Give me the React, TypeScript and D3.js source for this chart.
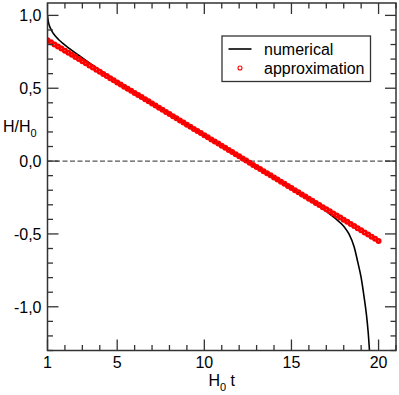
import React from 'react';
import * as d3 from 'd3';

// numerical solution
const numT = [1.0, 1.02, 1.05, 1.1, 1.18, 1.27, 1.37, 1.5, 1.66, 1.9, 2.13, 2.4, 2.7, 3.0, 3.5, 4.0, 4.5, 5.0,
  6.0, 8.0, 10.0, 12.0, 14.0, 15.0, 16.0, 16.5, 17.0, 17.5, 18.0, 18.3, 18.6, 18.8, 19.0, 19.2, 19.3, 19.4, 19.5];
const numH = [1.0, 0.979, 0.956, 0.933, 0.909, 0.888, 0.870, 0.851, 0.831, 0.806, 0.784, 0.760, 0.734, 0.708, 0.666, 0.625, 0.584, 0.545,
  0.470, 0.325, 0.179, 0.034, -0.112, -0.185, -0.26, -0.30, -0.345, -0.392, -0.447, -0.50, -0.59, -0.69, -0.8, -0.96, -1.05, -1.17, -1.34];

// approximation markers
const apprT = [1.0, 1.2, 1.4, 1.6, 1.8, 2.0, 2.2, 2.4, 2.6, 2.8, 3.0, 3.2, 3.4, 3.6, 3.8, 4.0, 4.2, 4.4, 4.6, 4.8,
  5.0, 5.2, 5.4, 5.6, 5.8, 6.0, 6.2, 6.4, 6.6, 6.8, 7.0, 7.2, 7.4, 7.6, 7.8, 8.0, 8.2, 8.4, 8.6, 8.8,
  9.0, 9.2, 9.4, 9.6, 9.8, 10.0, 10.2, 10.4, 10.6, 10.8, 11.0, 11.2, 11.4, 11.6, 11.8, 12.0, 12.2, 12.4, 12.6, 12.8,
  13.0, 13.2, 13.4, 13.6, 13.8, 14.0, 14.2, 14.4, 14.6, 14.8, 15.0, 15.2, 15.4, 15.6, 15.8, 16.0, 16.2, 16.4, 16.6, 16.8,
  17.0, 17.2, 17.4, 17.6, 17.8, 18.0, 18.2, 18.4, 18.6, 18.8, 19.0, 19.2, 19.4, 19.6, 19.8, 20.0];
const apprH = [0.830, 0.816, 0.801, 0.787, 0.772, 0.758, 0.743, 0.729, 0.714, 0.700, 0.685, 0.671, 0.656, 0.642, 0.627, 0.613, 0.598, 0.584, 0.569, 0.555,
  0.540, 0.526, 0.511, 0.497, 0.482, 0.468, 0.453, 0.439, 0.424, 0.410, 0.395, 0.381, 0.366, 0.352, 0.337, 0.323, 0.308, 0.294, 0.279, 0.265,
  0.250, 0.236, 0.221, 0.207, 0.192, 0.178, 0.163, 0.149, 0.134, 0.120, 0.105, 0.091, 0.076, 0.062, 0.047, 0.033, 0.018, 0.004, -0.011, -0.026,
  -0.040, -0.055, -0.069, -0.084, -0.098, -0.113, -0.127, -0.142, -0.156, -0.171, -0.185, -0.200, -0.214, -0.229, -0.243, -0.258, -0.272, -0.287, -0.301, -0.316,
  -0.330, -0.345, -0.359, -0.374, -0.388, -0.403, -0.417, -0.432, -0.446, -0.461, -0.475, -0.490, -0.504, -0.519, -0.533, -0.548];

const xMajor = [1, 5, 10, 15, 20];
const yMajor = [-1, -0.5, 0, 0.5, 1];
const legendLabels = ['numerical', 'approximation'];

const W = 399, H = 395;
const left = 47.5, right = 396, top = 3, bottom = 350.5;
const axisColor = '#333';
const font = '"Liberation Sans", Arial, sans-serif';

export default function App() {
  const x = d3.scaleLinear().domain([1, 21]).range([left, right]);
  const y = d3.scaleLinear().domain([-1.3, 1.085]).range([bottom, top]);

  const xMinor = x.ticks(20).filter(t => !xMajor.includes(t));
  const yMinor = y.ticks(24).filter(t => !yMajor.some(m => Math.abs(m - t) < 1e-6));
  const fmt = (v: number) => d3.format('.1f')(v).replace('.', ',').replace('−', '-');

  const line = d3.line<number>()
    .x((d, i) => x(numT[i]))
    .y(d => y(d))
    .curve(d3.curveMonotoneX);

  const maj = 11, mnr = 5.5;

  return (
    <svg width={W} height={H} style={{ position: 'absolute', left: 0, top: 0, background: '#fff' }}
      fontFamily={font}>
      <defs>
        <clipPath id="plot">
          <rect x={left} y={top} width={right - left} height={bottom - top} />
        </clipPath>
      </defs>

      {/* zero line */}
      <line x1={left} x2={right} y1={y(0)} y2={y(0)} stroke="#555" strokeWidth={1.3} strokeDasharray="5,2.5" />

      <g clipPath="url(#plot)">
        <path d={line(numH) || ''} fill="none" stroke="#000" strokeWidth={1.6} />
        {apprT.map((t, i) => (
          <circle key={i} cx={x(t)} cy={y(apprH[i])} r={1.7} fill="none" stroke="#ff0000" strokeWidth={2.6} />
        ))}
      </g>

      {/* ticks, mirrored on all four sides */}
      <g stroke={axisColor} strokeWidth={1.3}>
        {xMajor.map(t => (
          <g key={'xM' + t}>
            <line x1={x(t)} x2={x(t)} y1={bottom} y2={bottom - maj} />
            <line x1={x(t)} x2={x(t)} y1={top} y2={top + maj} />
          </g>
        ))}
        {xMinor.map(t => (
          <g key={'xm' + t}>
            <line x1={x(t)} x2={x(t)} y1={bottom} y2={bottom - mnr} />
            <line x1={x(t)} x2={x(t)} y1={top} y2={top + mnr} />
          </g>
        ))}
        {yMajor.map(t => (
          <g key={'yM' + t}>
            <line x1={left} x2={left + maj} y1={y(t)} y2={y(t)} />
            <line x1={right} x2={right - maj} y1={y(t)} y2={y(t)} />
          </g>
        ))}
        {yMinor.map(t => (
          <g key={'ym' + t}>
            <line x1={left} x2={left + mnr} y1={y(t)} y2={y(t)} />
            <line x1={right} x2={right - mnr} y1={y(t)} y2={y(t)} />
          </g>
        ))}
      </g>

      <rect x={left} y={top} width={right - left} height={bottom - top} fill="none" stroke={axisColor} strokeWidth={1.5} />

      {/* tick labels */}
      <g fontSize={16} fill="#000">
        {xMajor.map(t => (
          <text key={'xl' + t} x={x(t)} y={bottom + 17} textAnchor="middle">{t}</text>
        ))}
        {yMajor.map(t => (
          <text key={'yl' + t} x={left - 6} y={y(t)} dy="0.36em" textAnchor="end">{fmt(t)}</text>
        ))}
      </g>

      {/* axis titles */}
      <text x={(left + right) / 2} y={386} textAnchor="middle" fontSize={16}>
        H<tspan fontSize={11} dy={5}>0</tspan><tspan dy={-5}> t</tspan>
      </text>
      <text x={3} y={132} fontSize={16}>
        H/H<tspan fontSize={11} dy={5}>0</tspan>
      </text>

      {/* legend */}
      <g>
        <rect x={222} y={36} width={148.5} height={45.5} fill="#fff" stroke={axisColor} strokeWidth={1.3} />
        <line x1={228.5} x2={251.5} y1={49} y2={49} stroke="#000" strokeWidth={1.6} />
        <circle cx={240} cy={68} r={2} fill="none" stroke="#ff0000" strokeWidth={1.1} />
        <text x={264} y={55} fontSize={16}>{legendLabels[0]}</text>
        <text x={264} y={73.5} fontSize={16}>{legendLabels[1]}</text>
      </g>
    </svg>
  );
}
